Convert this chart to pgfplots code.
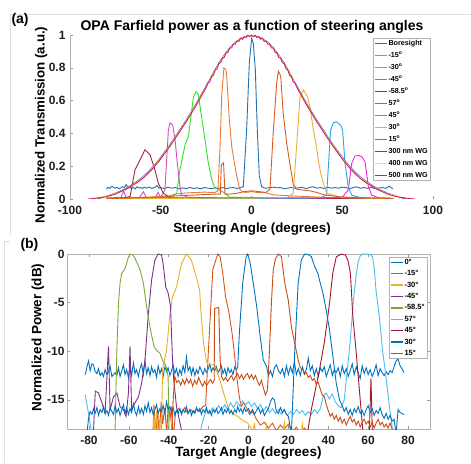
\documentclass[border=0pt]{standalone}
\usepackage{fontspec}
\setmainfont{Liberation Sans}
\usepackage{pgfplots}
\pgfplotsset{compat=1.18}
\definecolor{aBore}{HTML}{1F72B8}
\definecolor{aMfif}{HTML}{EE7733}
\definecolor{aMthi}{HTML}{30E030}
\definecolor{aMfor}{HTML}{D24FC0}
\definecolor{aMfie}{HTML}{9E2A35}
\definecolor{aPfis}{HTML}{FF1FE0}
\definecolor{aPfor}{HTML}{2AA5E5}
\definecolor{aPthi}{HTML}{E8B035}
\definecolor{aPfif}{HTML}{D95A20}
\definecolor{aWa}{HTML}{4B3FD8}
\definecolor{aWb}{HTML}{F2EE1A}
\definecolor{aWc}{HTML}{D4196E}
\definecolor{mBlue}{HTML}{0072BD}
\definecolor{mOrange}{HTML}{D95319}
\definecolor{mOrangeD}{HTML}{C94A15}
\definecolor{mYellow}{HTML}{EDB120}
\definecolor{mPurple}{HTML}{7E2F8E}
\definecolor{mGreen}{HTML}{77AC30}
\definecolor{mLBlue}{HTML}{4DBEEE}
\definecolor{mRed}{HTML}{A2142F}
\begin{document}
\begin{tikzpicture}
\path[use as bounding box] (0pt,0pt) rectangle (471pt,463pt);
\draw[black!12, line width=0.8pt] (10pt,229pt) -- (10pt,449pt) -- (471pt,449pt);
\draw[black!12, line width=0.8pt] (4pt,0pt) -- (4pt,222pt) -- (10pt,222pt);
\node[anchor=base west, font=\bfseries\fontsize{14}{16}\selectfont] at (8pt,439pt) {(a)};
\node[anchor=base west, font=\bfseries\fontsize{14}{16}\selectfont] at (17pt,214pt) {(b)};
\node[anchor=base, font=\bfseries\fontsize{14}{16}\selectfont] at (252pt,432pt) {OPA Farfield power as a function of steering angles};
\node[anchor=base, rotate=90, font=\bfseries\fontsize{13.3}{15}\selectfont] at (44.5pt,338pt) {Normalized Transmission (a.u.)};
\node[anchor=base, font=\bfseries\fontsize{13.3}{15}\selectfont] at (252pt,230pt) {Steering Angle (degrees)};
\node[anchor=base, rotate=90, font=\bfseries\fontsize{13.5}{15}\selectfont] at (41.4pt,125.5pt) {Normalized Power (dB)};
\node[anchor=base, font=\bfseries\fontsize{13.5}{15}\selectfont] at (248.5pt,6pt) {Target Angle (degrees)};

\begin{axis}[at={(70pt,264pt)}, anchor=south west, scale only axis, width=363pt, height=164pt,
  xmin=-100, xmax=100, ymin=0, ymax=1,
  axis line style={draw=none},
  xtick pos=bottom, ytick pos=left,
  xtick={-100,-50,0,50,100}, xticklabels={-100,-50,0,50,100},
  ytick={0,0.2,0.4,0.6,0.8,1}, yticklabels={0,0.2,0.4,0.6,0.8,1},
  tick style={draw=black!40, line width=0.5pt}, major tick length=3pt, tick align=inside,
  tick label style={font=\bfseries\fontsize{12}{13}\selectfont, text=black!88},
  xticklabel style={yshift=-3.5pt}, yticklabel style={xshift=-1pt},
  legend cell align=left,
  legend image code/.code={\draw[#1] (0pt,0pt) -- (12pt,0pt);},
  legend style={at={(0.992,0.982)}, anchor=north east, draw=black!30, line width=0.5pt, fill=white,
    inner xsep=1pt, inner ysep=1.5pt, row sep=4.8pt,
    font=\bfseries\fontsize{7.2}{8}\selectfont,
    nodes={inner xsep=1.1pt, inner ysep=0pt, text height=5.5pt, text depth=1.7pt}},
]
\addlegendimage{color=aBore, line width=1.5pt}
\addlegendentry{Boresight}
\addlegendimage{color=aMfif, line width=1.5pt}
\addlegendentry{-15\textsuperscript{o}}
\addlegendimage{color=aMthi, line width=1.5pt}
\addlegendentry{-30\textsuperscript{o}}
\addlegendimage{color=aMfor, line width=1.5pt}
\addlegendentry{-45\textsuperscript{o}}
\addlegendimage{color=aMfie, line width=1.5pt}
\addlegendentry{-58.5\textsuperscript{o}}
\addlegendimage{color=aPfis, line width=1.5pt}
\addlegendentry{57\textsuperscript{o}}
\addlegendimage{color=aPfor, line width=1.5pt}
\addlegendentry{45\textsuperscript{o}}
\addlegendimage{color=aPthi, line width=1.5pt}
\addlegendentry{30\textsuperscript{o}}
\addlegendimage{color=aPfif, line width=1.5pt}
\addlegendentry{15\textsuperscript{o}}
\addlegendimage{color=aWa, line width=1.5pt}
\addlegendentry{300 nm WG}
\addlegendimage{color=aWb, line width=1.5pt}
\addlegendentry{400 nm WG}
\addlegendimage{color=aWc, line width=1.5pt}
\addlegendentry{500 nm WG}
\draw[black!30, line width=0.6pt] (rel axis cs:0,1) -- (rel axis cs:0,0) -- (rel axis cs:1,0);
\addplot[forget plot, color=aBore, line width=0.9pt] coordinates {(-80,0.06)(-79,0.072)(-78,0.065)(-77,0.078)(-76,0.07)(-75,0.066)(-74,0.072)(-73,0.062)(-72,0.068)(-71,0.075)(-70,0.07)(-69,0.088)(-68,0.068)(-67,0.07)(-66,0.064)(-65,0.07)(-64,0.062)(-63,0.075)(-62,0.067)(-61,0.07)(-60,0.064)(-59,0.072)(-58,0.066)(-57,0.07)(-56,0.073)(-55,0.064)(-54,0.069)(-53,0.072)(-52,0.082)(-51,0.066)(-50,0.07)(-48,0.063)(-46,0.072)(-44,0.066)(-42,0.07)(-40,0.062)(-38,0.068)(-36,0.063)(-34,0.071)(-32,0.064)(-30,0.068)(-28,0.062)(-26,0.07)(-24,0.066)(-22,0.063)(-20,0.069)(-18,0.064)(-16,0.07)(-14,0.063)(-12,0.068)(-10,0.07)(-8,0.064)(-6,0.07)(-4.5,0.075)(-2.7,0.42)(-1.2,0.83)(0.1,0.98)(1,0.95)(2.1,0.79)(3.2,0.42)(4.3,0.14)(5.6,0.075)(7,0.068)(8,0.065)(10,0.07)(12,0.072)(14,0.068)(16,0.07)(18,0.062)(20,0.066)(22,0.07)(24,0.065)(26,0.068)(28,0.072)(30,0.063)(32,0.07)(34,0.075)(36,0.066)(38,0.07)(40,0.064)(42,0.072)(44,0.066)(46,0.07)(48,0.066)(50,0.072)(52,0.07)(54,0.063)(56,0.07)(58,0.074)(60,0.066)(62,0.07)(64,0.065)(66,0.072)(68,0.063)(70,0.067)(72,0.07)(74,0.065)(75,0.072)(76,0.078)(77,0.068)(78,0.064)};
\addplot[forget plot, color=aMfif, line width=0.9pt] coordinates {(-80,0.005)(-70,0.008)(-60,0.01)(-50,0.015)(-45,0.02)(-42,0.03)(-38,0.035)(-34,0.038)(-30,0.04)(-26,0.042)(-22,0.04)(-20,0.04)(-18.5,0.05)(-17.4,0.3)(-16.4,0.63)(-15.2,0.8)(-14.2,0.79)(-13.7,0.76)(-12.2,0.48)(-10.9,0.32)(-8.5,0.16)(-6.5,0.06)(-5,0.045)(-3,0.04)(0,0.045)(3,0.04)(6,0.04)(9,0.035)(12,0.025)(20,0.02)(30,0.015)(40,0.01)(60,0.005)(78,0.003)};
\addplot[forget plot, color=aMthi, line width=0.9pt] coordinates {(-80,0.003)(-60,0.005)(-50,0.008)(-44,0.01)(-41.2,0.035)(-39.4,0.18)(-36.6,0.33)(-34.8,0.38)(-32,0.62)(-30.6,0.655)(-29.3,0.635)(-27.5,0.5)(-25.6,0.36)(-23.8,0.22)(-21.9,0.12)(-20.1,0.065)(-17.4,0.055)(-14.6,0.035)(-12,0.01)(-5,0.01)(10,0.008)(30,0.005)(50,0.004)(78,0.003)};
\addplot[forget plot, color=aMfor, line width=0.9pt] coordinates {(-80,0.003)(-72,0.005)(-70.5,0.05)(-69,0.005)(-62,0.005)(-59.5,0.045)(-58,0.005)(-53,0.008)(-51.5,0.04)(-50,0.01)(-47.7,0.055)(-45.8,0.42)(-44.9,0.465)(-43.4,0.45)(-42.1,0.36)(-40.9,0.22)(-39.4,0.075)(-38.5,0.025)(-35,0.01)(-20,0.008)(0,0.006)(20,0.005)(40,0.004)(78,0.003)};
\addplot[forget plot, color=aMfie, line width=0.9pt] coordinates {(-80,0.005)(-70,0.008)(-66.9,0.015)(-64.2,0.177)(-62.4,0.217)(-58.7,0.3)(-55.9,0.27)(-53.2,0.177)(-51.3,0.095)(-48.6,0.035)(-45,0.008)(-30,0.005)(0,0.004)(40,0.003)(78,0.003)};
\addplot[forget plot, color=aPfis, line width=0.9pt] coordinates {(-80,0.002)(-60,0.004)(0,0.005)(40,0.006)(50,0.01)(53.3,0.055)(55.2,0.217)(57,0.262)(59,0.265)(60.7,0.258)(62.5,0.228)(64.4,0.075)(66.2,0.024)(70,0.008)(78,0.004)};
\addplot[forget plot, color=aPfor, line width=0.9pt] coordinates {(-80,0.003)(0,0.004)(30,0.005)(38,0.008)(41.4,0.024)(43.6,0.42)(45.1,0.465)(46.9,0.47)(49.1,0.45)(50.2,0.42)(51.5,0.22)(53.3,0.075)(55.2,0.024)(60,0.008)(78,0.003)};
\addplot[forget plot, color=aPthi, line width=0.9pt] coordinates {(-80,0.003)(0,0.005)(15,0.008)(20,0.01)(23,0.035)(24.9,0.33)(26.7,0.62)(28.6,0.665)(30.8,0.624)(32.2,0.563)(34.1,0.42)(35.5,0.34)(36.8,0.238)(38.1,0.157)(39.6,0.095)(41.4,0.035)(50,0.008)(78,0.003)};
\addplot[forget plot, color=aPfif, line width=0.9pt] coordinates {(-80,0.003)(-70,0.005)(-60,0.008)(-50,0.012)(-40,0.02)(-30,0.025)(-20,0.03)(-17.2,0.03)(-16.6,0.21)(-15.4,0.22)(-14.6,0.03)(-12,0.03)(-8,0.035)(-4,0.045)(0,0.05)(4,0.045)(8,0.04)(10.2,0.06)(12,0.41)(13.9,0.71)(14.8,0.78)(16.1,0.75)(17.5,0.52)(19.4,0.34)(21.2,0.21)(23,0.09)(24.9,0.06)(28,0.055)(32,0.05)(36,0.04)(40,0.025)(50,0.012)(60,0.008)(70,0.005)(78,0.003)};
\addplot[forget plot, color=aWa, line width=0.9pt] coordinates {(-85,0)(-82,0.01)(-78,0.024)(-75,0.035)(-72,0.05)(-69,0.066)(-66,0.087)(-63,0.108)(-60,0.134)(-57,0.165)(-54,0.2)(-51,0.24)(-48,0.285)(-45,0.33)(-42,0.38)(-39,0.43)(-36,0.48)(-33,0.535)(-30,0.59)(-27,0.65)(-24,0.71)(-21,0.77)(-18,0.83)(-15,0.878)(-12,0.922)(-9,0.955)(-6,0.978)(-3,0.992)(0,0.998)(3,0.992)(6,0.978)(9,0.955)(12,0.922)(15,0.878)(18,0.83)(21,0.77)(24,0.71)(27,0.65)(30,0.59)(33,0.535)(36,0.48)(39,0.43)(42,0.38)(45,0.33)(48,0.285)(51,0.24)(54,0.2)(57,0.165)(60,0.134)(63,0.108)(66,0.087)(69,0.066)(72,0.05)(75,0.035)(78,0.024)(82,0.01)(85,0)};
\addplot[forget plot, color=aWb, line width=0.9pt] coordinates {(-88,0)(-84,0.008)(-80,0.017)(-75,0.033)(-72,0.047)(-69,0.063)(-66,0.083)(-63,0.104)(-60,0.13)(-57,0.16)(-54,0.195)(-51,0.235)(-48,0.28)(-45,0.325)(-42,0.375)(-39,0.425)(-36,0.475)(-33,0.53)(-30,0.585)(-27,0.645)(-24,0.705)(-21,0.765)(-18,0.825)(-15,0.874)(-12,0.918)(-9,0.952)(-6,0.976)(-3,0.991)(0,0.999)(3,0.991)(6,0.976)(9,0.952)(12,0.918)(15,0.874)(18,0.825)(21,0.765)(24,0.705)(27,0.645)(30,0.585)(33,0.53)(36,0.475)(39,0.425)(42,0.375)(45,0.325)(48,0.28)(51,0.235)(54,0.195)(57,0.16)(60,0.13)(63,0.104)(66,0.083)(69,0.063)(72,0.047)(75,0.033)(80,0.017)(84,0.008)(88,0)};
\addplot[forget plot, color=aWc, line width=0.9pt] coordinates {(-90,0)(-87,0.003)(-84,0.007)(-81,0.012)(-78,0.02)(-75,0.03)(-72,0.045)(-69,0.06)(-66,0.08)(-63,0.1)(-60,0.125)(-57,0.155)(-54,0.19)(-51,0.23)(-48,0.275)(-45,0.32)(-42,0.37)(-39,0.42)(-36,0.47)(-33,0.525)(-30,0.58)(-27,0.64)(-25,0.68)(-24,0.706)(-23,0.714)(-22,0.746)(-21,0.754)(-20,0.786)(-19,0.794)(-18,0.826)(-17,0.831)(-16,0.859)(-15,0.864)(-14,0.891)(-13,0.894)(-12,0.921)(-11,0.921)(-10,0.944)(-9,0.944)(-8,0.964)(-7,0.961)(-6,0.981)(-5,0.974)(-4,0.991)(-3,0.984)(-2,0.999)(-1,0.99)(0,1.0)(1,0.99)(2,0.999)(3,0.984)(4,0.991)(5,0.974)(6,0.981)(7,0.961)(8,0.964)(9,0.944)(10,0.944)(11,0.921)(12,0.921)(13,0.894)(14,0.891)(15,0.864)(16,0.859)(17,0.831)(18,0.826)(19,0.794)(20,0.786)(21,0.754)(22,0.746)(23,0.714)(24,0.706)(25,0.68)(27,0.64)(30,0.58)(33,0.525)(36,0.47)(39,0.42)(42,0.37)(45,0.32)(48,0.275)(51,0.23)(54,0.19)(57,0.155)(60,0.125)(63,0.1)(66,0.08)(69,0.06)(72,0.045)(75,0.03)(78,0.02)(81,0.012)(84,0.007)(87,0.003)(90,0)};
\end{axis}

\begin{axis}[at={(67pt,34pt)}, anchor=south west, scale only axis, width=363pt, height=175pt,
  xmin=-91, xmax=91, ymin=-18, ymax=0,
  axis line style={draw=black!30, line width=0.6pt},
  xtick={-80,-60,-40,-20,0,20,40,60,80}, xticklabels={-80,-60,-40,-20,0,20,40,60,80},
  ytick={-15,-10,-5,0}, yticklabels={-15,-10,-5,0},
  tick style={draw=black!40, line width=0.5pt}, major tick length=3pt, tick align=inside,
  tick label style={font=\bfseries\fontsize{12}{13}\selectfont, text=black!88},
  xticklabel style={yshift=-3.5pt}, yticklabel style={xshift=1pt},
  legend cell align=left,
  legend image code/.code={\draw[#1, line width=1.5pt] (0pt,0pt) -- (12pt,0pt);},
  legend style={at={(0.992,0.983)}, anchor=north east, draw=black!30, line width=0.5pt, fill=white,
    inner xsep=1pt, inner ysep=1.5pt, row sep=4.2pt,
    font=\bfseries\fontsize{7.5}{8}\selectfont,
    nodes={inner xsep=1.2pt, inner ysep=0pt, text height=5.5pt, text depth=1.7pt}},
]
\addplot[color=mBlue, line width=0.9pt] coordinates {(-81.8,-12.4)(-81,-11.6)(-80.2,-11.0)(-79.4,-12.0)(-78.5,-11.3)(-77.7,-11.4)(-76.9,-12.1)(-76,-12.3)(-75.2,-11.8)(-74.4,-12.5)(-73.5,-12.2)(-72.7,-12.6)(-71.9,-11.9)(-71,-12.4)(-70.2,-12.1)(-69.4,-11.5)(-68.5,-12.6)(-67.7,-12.4)(-66.9,-12.2)(-66,-12.5)(-65.2,-11.7)(-64.4,-12.6)(-63.5,-12.0)(-62.7,-11.4)(-61.9,-12.4)(-61.1,-11.9)(-60.2,-12.7)(-59.4,-11.6)(-58.6,-12.5)(-57.7,-11.2)(-56.9,-12.3)(-56.1,-11.9)(-55.2,-12.6)(-54.4,-11.8)(-53.6,-11.3)(-52.7,-12.4)(-51.9,-11.0)(-51.1,-12.3)(-50.3,-11.7)(-49.4,-12.5)(-48.6,-11.6)(-47.8,-12.2)(-46.9,-11.9)(-46.1,-12.7)(-45.3,-11.5)(-44.4,-12.3)(-43.6,-11.8)(-42.8,-12.6)(-41.9,-11.6)(-41.1,-12.1)(-40.3,-11.7)(-39.4,-12.5)(-38.6,-12.0)(-37.8,-11.4)(-36.9,-12.3)(-36.1,-11.8)(-35.3,-12.6)(-34.4,-11.9)(-33.6,-12.4)(-32.8,-11.5)(-31.9,-12.2)(-31.1,-10.6)(-30.3,-12.0)(-29.4,-11.6)(-28.6,-12.4)(-27.8,-11.7)(-26.9,-12.5)(-26.1,-11.9)(-25.3,-12.3)(-24.4,-11.6)(-23.6,-12.0)(-22.8,-12.4)(-21.9,-11.8)(-21.1,-12.2)(-20.3,-11.9)(-19.4,-11.3)(-18.6,-12.1)(-17.8,-11.7)(-16.9,-12.0)(-16.1,-11.6)(-15.3,-12.2)(-14.4,-11.9)(-13.6,-11.5)(-12.8,-12.3)(-11.9,-11.8)(-11.1,-12.5)(-10.3,-11.7)(-9.4,-12.2)(-8.6,-11.9)(-7.8,-12.4)(-6.9,-11.6)(-6.1,-11.9)(-5.4,-11.6)(-4.6,-8.2)(-2.9,-3.0)(-1.2,-0.3)(-0.4,0)(0.8,-0.9)(2.4,-3.0)(4.1,-5.4)(5.7,-8.2)(7.4,-10.9)(9.1,-11.6)(10,-12.5)(11,-12.0)(12,-12.6)(13,-11.7)(14,-11.4)(15,-12.0)(16,-12.3)(17,-11.8)(18,-12.6)(19,-11.5)(20,-12.4)(21,-11.6)(22,-12.2)(23,-11.1)(24,-12.4)(25,-11.8)(26,-12.5)(27,-11.6)(28,-12.3)(29,-11.9)(30,-10.7)(31,-12.0)(32,-11.5)(33,-12.5)(34,-11.8)(35,-12.6)(36,-11.7)(37,-12.1)(38,-11.6)(39,-12.6)(40,-12.0)(41,-11.4)(42,-12.5)(43,-11.9)(44,-12.2)(45,-11.7)(46,-12.6)(47,-11.5)(48,-12.3)(49,-11.8)(50,-12.6)(51,-12.0)(52,-11.3)(53,-12.4)(54,-11.6)(55,-12.2)(56,-12.8)(57,-11.5)(58,-12.3)(59,-11.7)(60,-12.4)(61,-11.9)(62,-12.6)(63,-12.1)(64,-11.4)(65,-12.5)(66,-11.8)(67,-12.2)(68,-12.5)(69,-12.1)(70,-12.4)(71,-12.0)(72,-12.2)(73,-11.6)(74,-11.0)(75,-10.8)(76,-11.5)(77,-11.8)(78,-12.2)};
\addlegendentry{0°}
\addplot[color=mOrange, line width=0.9pt] coordinates {(-48,-19)(-47.4,-15.5)(-46.5,-18.5)(-45.5,-16.0)(-44.8,-19)(-43.8,-15.2)(-43,-17.5)(-42,-15.8)(-41,-18.5)(-40.2,-15.3)(-39.3,-17.0)(-38.6,-15.7)(-37.8,-19)(-36.5,-16.2)(-35,-15.9)(-33.5,-16.3)(-32,-15.8)(-30.5,-16.4)(-29,-16.0)(-27.5,-16.3)(-26,-15.9)(-24.5,-16.2)(-23,-15.7)(-21.5,-15.6)(-20.4,-11.1)(-17.9,-1.6)(-15.4,0)(-14.2,-0.3)(-12.9,-2.0)(-11.5,-4.4)(-9.9,-5.9)(-8.2,-8.2)(-7.1,-10.2)(-5.9,-12.6)(-4.6,-14.7)(-3.7,-15.7)(-2.5,-15.3)(-1,-15.8)(0.5,-16.5)(2,-16.2)(4,-17.0)(6,-17.6)(8,-17.3)(10,-17.9)(12,-17.4)(14,-18.2)(16,-17.6)(18,-18.0)(20,-17.5)(22,-18.3)(24,-17.8)(26,-18.5)(28,-17.9)(31,-18.6)(34,-19)};
\addlegendentry{-15°}
\addplot[color=mYellow, line width=0.9pt] coordinates {(-81,-19)(-48,-19)(-47.4,-16.5)(-46.9,-18.5)(-46,-16.0)(-45.5,-19)(-44.5,-17.0)(-44,-19)(-43.6,-18.1)(-43.1,-11.9)(-41.1,-9.9)(-39.5,-6.4)(-38.1,-4.4)(-36.1,-3.4)(-33.6,-1.0)(-31.1,0)(-28.7,-0.6)(-26.2,-2.3)(-24.5,-3.7)(-23.7,-6.4)(-22.5,-9.2)(-21.2,-10.9)(-20.4,-11.4)(-17.0,-11.4)(-15.4,-12.3)(-12.9,-14.0)(-10.4,-15.7)(-7.9,-16.4)(-5.4,-16.7)(-2.9,-17.1)(-0.4,-17.4)(1,-17.8)(2,-18.3)(3,-17.5)(4,-19)(8,-19)(9,-17.6)(10,-19)(17,-19)(18,-17.3)(19,-19)(26,-19)(27,-17.5)(28,-19)(40,-19)};
\addlegendentry{-30°}
\addplot[color=mPurple, line width=0.9pt] coordinates {(-78.5,-19)(-77.7,-18.1)(-76.8,-14.1)(-75.2,-14.3)(-73.5,-15.3)(-71.9,-16.4)(-70.2,-9.5)(-69.4,-16.0)(-67.7,-14.7)(-66.0,-14.3)(-64.4,-15.7)(-62.7,-16.0)(-61.4,-16.7)(-60.2,-14.3)(-59.4,-9.5)(-58.6,-16.0)(-56.9,-15.3)(-55.2,-14.7)(-53.6,-13.3)(-51.9,-10.9)(-50.3,-6.4)(-48.6,-2.7)(-46.9,-0.6)(-45.3,0)(-43.6,-0.1)(-42.8,-1.0)(-41.5,-3.4)(-40.3,-4.0)(-39.1,-5.4)(-38.1,-10.9)(-37.5,-12.9)(-36.1,-15.7)(-33.6,-18.1)(-33,-19)};
\addlegendentry{-45°}
\addplot[color=mGreen, line width=0.9pt] coordinates {(-81,-19)(-67.5,-19)(-66.9,-18.1)(-66,-9.9)(-65.2,-5.1)(-64.4,-3.0)(-63.6,-2.0)(-61.9,-1.5)(-60.5,-0.5)(-59.4,0)(-58,-0.1)(-56.9,-0.45)(-54.4,-1.6)(-52.7,-3.0)(-51.1,-5.4)(-49.4,-7.5)(-47.4,-9.5)(-46.1,-9.9)(-44.4,-10.2)(-42.8,-11.1)(-41.5,-11.4)(-40.3,-12.6)(-39.8,-19)(-30,-19)};
\addlegendentry{-58.5°}
\addplot[color=mLBlue, line width=0.9pt] coordinates {(-81.8,-14.5)(-81,-15.5)(-80.2,-16.4)(-79.4,-17.5)(-78.5,-18.5)(-70,-19)(-40,-19)(-25,-19)(-23,-17.2)(-21,-16.0)(-19.5,-16.4)(-18,-15.8)(-16.5,-16.2)(-15,-15.6)(-13.5,-16.1)(-12,-15.5)(-10.5,-16.0)(-9,-15.3)(-7.5,-15.8)(-6,-15.2)(-4.5,-15.6)(-3,-15.1)(-1.5,-15.5)(0,-15.2)(1.5,-15.7)(3,-15.3)(4.5,-15.9)(6,-15.5)(7.5,-16.1)(9,-15.7)(10.5,-16.3)(12,-15.9)(13.5,-16.4)(15,-16.0)(16.5,-16.5)(18,-16.1)(19.5,-16.6)(21,-16.2)(22.5,-16.5)(24,-16.0)(25.5,-16.4)(27,-16.1)(28.5,-16.6)(30,-16.2)(31.5,-16.5)(33,-16.0)(34.5,-16.4)(36,-15.9)(37.5,-14.6)(39,-14.3)(40.5,-14.9)(42,-14.4)(43.5,-15.2)(45,-15.6)(46.5,-15.8)(48,-15.0)(49.5,-12.0)(51,-9.0)(52.5,-5.0)(53.9,-2.3)(55,-0.8)(56,-0.2)(57.3,0)(59.5,0)(61.4,-0.1)(62.2,-0.3)(63.1,-1.6)(63.9,-3.7)(65.6,-6.4)(67.2,-9.9)(68.9,-12.6)(70.5,-15.4)(72.2,-18.1)(73,-19)};
\addlegendentry{57°}
\addplot[color=mRed, line width=0.9pt] coordinates {(-81,-19)(29,-19)(29.8,-18.1)(31.5,-16.0)(33.2,-14.3)(35.6,-11.9)(38.1,-9.0)(40.6,-5.1)(42.3,-1.9)(44.0,-0.3)(46.5,0)(48.5,-0.1)(49.8,-0.6)(51.1,-2.0)(52.3,-6.4)(53.9,-9.9)(55.6,-14.0)(57.3,-18.1)(58,-19)(60.5,-19)(61.4,-12.8)(62.2,-19)(70,-19)};
\addlegendentry{45°}
\addplot[color=mBlue, line width=0.9pt] coordinates {(-81,-18.5)(-80.2,-16.9)(-79.4,-16.2)(-78.5,-16.5)(-77.7,-15.9)(-76.9,-16.4)(-76,-15.8)(-75.2,-16.6)(-74.4,-16.0)(-73.5,-16.3)(-72.7,-15.7)(-71.9,-16.4)(-71,-16.1)(-70.2,-16.6)(-69.4,-15.8)(-68.5,-16.2)(-67.7,-16.5)(-66.9,-15.6)(-66,-16.3)(-65.2,-15.9)(-64.4,-16.6)(-63.5,-16.0)(-62.7,-15.5)(-61.9,-16.4)(-61.1,-15.8)(-60.2,-16.5)(-59.4,-15.9)(-58.6,-16.3)(-57.7,-15.4)(-56.9,-16.2)(-56.1,-16.6)(-55.2,-15.7)(-54.4,-16.4)(-53.6,-15.9)(-52.7,-16.5)(-51.9,-15.6)(-51.1,-16.2)(-50.3,-15.3)(-49.4,-16.3)(-48.6,-15.8)(-47.8,-16.5)(-46.9,-16.0)(-46.1,-15.5)(-45.3,-16.4)(-44.4,-15.9)(-43.6,-16.2)(-42.8,-15.6)(-41.9,-16.4)(-41.1,-15.2)(-40.3,-16.0)(-39.4,-15.7)(-38.6,-16.3)(-37.8,-15.8)(-36.9,-16.6)(-36.1,-16.1)(-35.3,-16.4)(-34.4,-15.9)(-33.6,-16.5)(-32.8,-16.0)(-31.9,-16.3)(-31.1,-15.7)(-30.3,-16.4)(-29.4,-16.0)(-28.6,-16.6)(-27.8,-16.1)(-26.9,-16.4)(-26.1,-15.8)(-25.3,-16.2)(-24.4,-15.9)(-23.6,-16.5)(-22.8,-16.0)(-21.9,-16.3)(-21.1,-15.8)(-20.3,-16.4)(-19.4,-16.1)(-18.6,-16.6)(-17.8,-16.0)(-16.9,-16.3)(-16.1,-15.9)(-15.3,-16.4)(-14.4,-16.2)(-13.6,-15.8)(-12.8,-16.5)(-11.9,-16.0)(-11.1,-16.3)(-10.3,-15.9)(-9.4,-16.4)(-8.6,-16.1)(-7.8,-16.5)(-6.9,-16.0)(-6.1,-16.3)(-5.4,-15.7)(-4.6,-16.2)(-3.8,-15.9)(-2.9,-16.4)(-2.1,-15.8)(-1.2,-16.2)(0,-15.9)(1,-16.4)(2,-16.0)(3,-16.5)(4,-16.1)(5,-15.8)(6,-16.4)(7,-16.0)(8,-16.6)(9,-16.2)(10,-15.9)(11,-15.2)(12,-14.8)(13,-15.0)(14,-16.2)(15,-16.4)(16,-15.8)(17,-16.3)(18,-16.0)(19,-16.5)(20,-16.7)(21.5,-18.5)(23.2,-9.9)(24.9,-3.0)(26.5,-0.6)(28.2,0)(30,-0.05)(31.5,-0.27)(33.2,-1.3)(34.8,-2.0)(36,-3.0)(37.3,-4.0)(39.0,-5.8)(40.6,-7.8)(42.3,-10.5)(44.0,-13.3)(45.6,-15.0)(47,-15.6)(48,-16.2)(49,-15.8)(50,-16.5)(51,-16.0)(52,-16.6)(53,-15.9)(54,-16.3)(55,-15.7)(56,-16.4)(57,-16.1)(58,-16.6)(59,-16.0)(60,-15.6)(61,-16.3)(62,-15.9)(63,-16.6)(64,-16.1)(65,-16.4)(66,-15.8)(67,-16.5)(68,-16.9)(69,-16.4)(70,-17.0)(71,-16.6)(72,-17.2)(73,-17.0)(74,-18.5)(75,-16.0)(76,-16.3)(78,-16.5)};
\addlegendentry{30°}
\addplot[color=mOrangeD, line width=0.9pt] coordinates {(-40,-19)(-38.5,-18)(-37.6,-14.5)(-37,-12.6)(-36,-13.2)(-35,-13.0)(-34,-13.5)(-33,-12.9)(-32,-13.4)(-31,-12.8)(-30,-13.3)(-29,-12.9)(-28,-13.6)(-27,-13.0)(-26,-13.4)(-25,-12.7)(-24,-13.2)(-23,-13.6)(-22,-13.1)(-21,-13.5)(-20,-13.2)(-19,-12.9)(-18,-13.3)(-17.2,-13.0)(-17,-5.6)(-15.1,-5.5)(-14.9,-5.6)(-14.2,-11.0)(-13.5,-12.6)(-12.5,-13.0)(-11.5,-12.7)(-10.5,-13.1)(-9.5,-12.8)(-8.5,-12.5)(-7.5,-13.0)(-6.5,-12.6)(-5.5,-12.3)(-4.5,-12.8)(-3.5,-12.4)(-2.5,-12.9)(-1.5,-12.5)(-0.5,-12.3)(0.5,-12.8)(1.5,-12.4)(2.5,-12.9)(3.5,-12.5)(4.5,-13.1)(5.5,-13.5)(6.5,-13.0)(7.5,-13.8)(8.5,-14.5)(9.5,-14.0)(10.5,-10.0)(11.5,-5.0)(12.4,-1.64)(13.5,-0.5)(14.9,0)(16.5,-0.27)(18.2,-3.0)(19.9,-4.7)(21.5,-7.5)(23.2,-9.2)(24.9,-10.9)(26,-11.7)(27.3,-11.9)(28,-12.4)(29,-12.2)(30,-12.7)(31,-12.5)(32,-13.0)(33,-12.8)(34,-13.4)(35,-13.2)(36,-13.9)(37,-14.5)(38.1,-14.7)(39,-15.5)(39.8,-16.0)(41,-16.7)(42,-16.4)(43,-17.0)(44,-16.6)(45,-17.2)(46,-16.8)(47,-17.4)(48,-17.0)(49,-17.6)(50,-17.1)(51,-16.7)(52,-17.3)(53,-17.0)(54,-17.6)(55,-17.2)(56,-17.8)(57,-17.3)(58,-17.0)(59,-17.5)(60,-17.2)(61,-17.8)(62,-17.3)(63,-17.9)(64,-17.4)(65,-17.0)(66,-17.6)(67,-17.3)(68,-17.8)(69,-17.5)(70,-17.9)(71,-17.4)(72,-18.0)(73,-19)};
\addlegendentry{15°}
\end{axis}
\end{tikzpicture}
\end{document}
